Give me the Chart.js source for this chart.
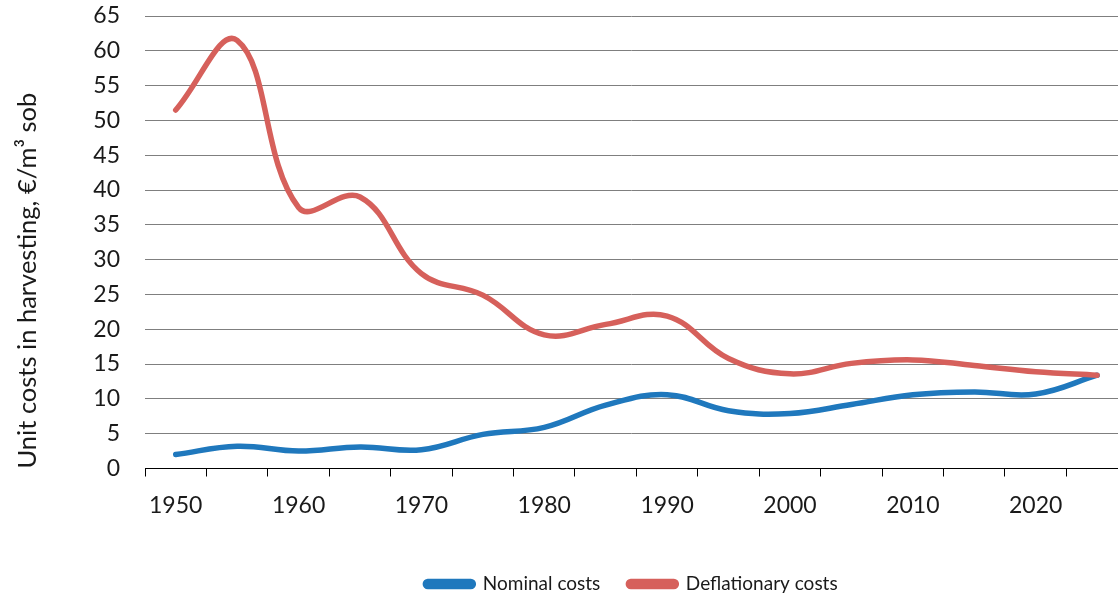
<!DOCTYPE html>
<html>
<head>
<meta charset="utf-8">
<script src="https://cdn.jsdelivr.net/npm/chart.js@4.4.1/dist/chart.umd.min.js"></script>
<style>
  html, body { margin: 0; padding: 0; background: #fff; overflow: hidden; }
  #wrap { width: 1118px; height: 596px; }
</style>
</head>
<body>
<div id="wrap"><canvas id="costChart"></canvas></div>
<script>
// Data (5-year steps)
const years = [1950, 1955, 1960, 1965, 1970, 1975, 1980, 1985, 1990, 1995, 2000, 2005, 2010, 2015, 2020, 2025];
const nominal = [2.0, 3.2, 2.5, 3.1, 2.7, 4.9, 5.9, 9.1, 10.6, 8.3, 7.9, 9.2, 10.6, 11.0, 10.7, 13.4];
const deflationary = [51.5, 61.5, 37.5, 39.0, 28.0, 24.9, 19.2, 20.7, 21.9, 15.8, 13.6, 15.1, 15.6, 14.8, 13.9, 13.4];
const xLabels = [1950, 1960, 1970, 1980, 1990, 2000, 2010, 2020];

const blue = '#1f78bd';
const red = '#d6605b';
const font = 'Lato';

const toPoints = vals => years.map((y, i) => ({ x: y, y: vals[i] }));

const ctx = document.getElementById('costChart').getContext('2d');
const costChart = new Chart(ctx, {
  type: 'line',
  data: {
    datasets: [
      {
        label: 'Nominal costs',
        data: toPoints(nominal),
        borderColor: blue,
        backgroundColor: blue,
        borderWidth: 5.5,
        borderCapStyle: 'round',
        pointRadius: 0,
        tension: 0.4,
        order: 2
      },
      {
        label: 'Deflationary costs',
        data: toPoints(deflationary),
        borderColor: red,
        backgroundColor: red,
        borderWidth: 5.5,
        borderCapStyle: 'round',
        pointRadius: 0,
        tension: 0.4,
        order: 1
      }
    ]
  },
  options: {
    responsive: true,
    maintainAspectRatio: false,
    animation: false,
    layout: { padding: { top: 16, right: 0, bottom: -7.5, left: 0 } },
    scales: {
      x: {
        type: 'linear',
        min: 1947.5,
        max: 2026.7,
        afterBuildTicks: scale => {
          const t = [];
          for (let v = 1947.5; v <= 2025; v += 2.5) t.push({ value: v });
          scale.ticks = t;
        },
        afterFit: scale => { scale.height = 78; },
        border: { display: true, color: '#000', width: 1 },
        grid: {
          drawOnChartArea: false,
          drawTicks: true,
          tickLength: 8,
          tickWidth: 1,
          tickColor: c => ((c.tick.value - 1947.5) % 5 === 0 ? '#000' : 'rgba(0,0,0,0)')
        },
        ticks: {
          autoSkip: false,
          maxRotation: 0,
          padding: 15,
          color: '#1a1a1a',
          font: { family: font, size: 23 },
          callback: v => (xLabels.includes(v) ? String(v) : '')
        }
      },
      y: {
        min: 0,
        max: 65,
        afterFit: scale => {
          scale.width = 145;
          scale.paddingTop = 14;
          scale.paddingBottom = 14;
        },
        border: { display: false },
        grid: { color: '#7f7f7f', lineWidth: 1, drawTicks: false },
        ticks: {
          stepSize: 5,
          padding: 25,
          color: '#1a1a1a',
          font: { family: font, size: 23 }
        },
        title: {
          display: true,
          text: 'Unit costs in harvesting, €/m³ sob',
          align: 'start',
          color: '#1a1a1a',
          font: { family: font, size: 25.5 },
          padding: { top: 12, bottom: 0 }
        }
      }
    },
    plugins: {
      legend: {
        position: 'bottom',
        fullSize: false,
        labels: {
          sort: (a, b) => a.datasetIndex - b.datasetIndex,
          boxWidth: 48,
          boxHeight: 5,
          useBorderRadius: true,
          borderRadius: 2.5,
          padding: 28,
          color: '#1a1a1a',
          font: { family: font, size: 19 }
        }
      },
      tooltip: { enabled: false }
    }
  }
});
</script>
</body>
</html>
